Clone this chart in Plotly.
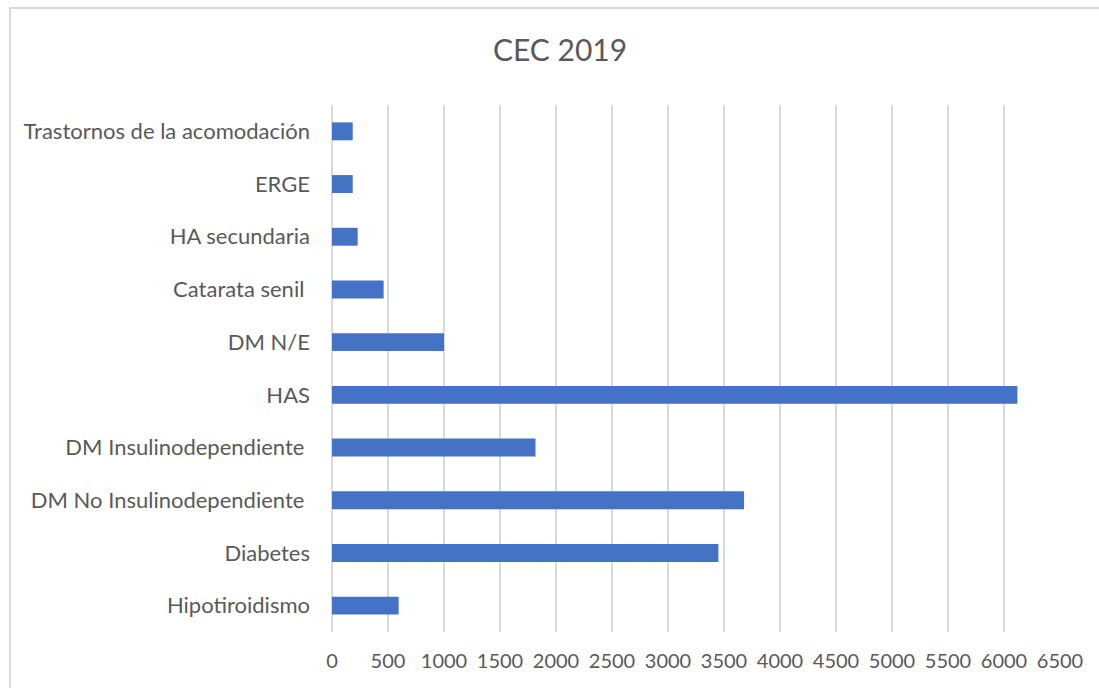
import plotly.graph_objects as go

categories = ["Hipotiroidismo", "Diabetes", "DM No Insulinodependiente ", "DM Insulinodependiente ",
              "HAS", "DM N/E", "Catarata senil ", "HA secundaria", "ERGE", "Trastornos de la acomodación"]
values = [595, 3450, 3679, 1817, 6120, 1000, 461, 229, 185, 185]
x_ticks = list(range(0, 7000, 500))

W, H = 1099, 688
L, R, T, B = 332, 39, 105, 56
pw, ph = W - L - R, H - T - B

fig = go.Figure(go.Bar(
    x=values, y=categories, orientation="h",
    marker=dict(color="#4472C4", line=dict(width=0)),
))

def px_to_paper_x(px):
    return (px - L) / pw

def px_to_paper_y(py):
    return (H - B - py) / ph

fig.update_layout(
    width=W, height=H,
    margin=dict(l=L, r=R, t=T, b=B, autoexpand=False),
    paper_bgcolor="white", plot_bgcolor="white",
    bargap=0.66,
    showlegend=False,
    font=dict(family="Lato", color="#595959"),
    title=dict(text="CEC 2019", x=560 / W, xanchor="center", y=1 - 50 / H, yanchor="middle",
               font=dict(family="Lato", size=30, color="#595959")),
    xaxis=dict(range=[0, 6500], tickvals=x_ticks, ticktext=[str(v) for v in x_ticks],
               showgrid=True, gridcolor="#d9d9d9", gridwidth=2,
               zeroline=True, zerolinecolor="#d9d9d9", zerolinewidth=2,
               showline=False, ticks="", ticklabelstandoff=15,
               tickfont=dict(family="Lato", size=20, color="#595959"), fixedrange=True),
    yaxis=dict(categoryorder="array", categoryarray=categories, range=[-0.5, len(categories) - 0.5],
               showgrid=False, zeroline=False, showline=False, ticks="", ticklabelstandoff=21,
               tickfont=dict(family="Lato", size=22, color="#595959"), fixedrange=True),
    shapes=[dict(type="rect", xref="paper", yref="paper",
                 x0=px_to_paper_x(10), x1=px_to_paper_x(W + 20),
                 y0=px_to_paper_y(H + 20), y1=px_to_paper_y(8),
                 line=dict(color="#d9d9d9", width=2), fillcolor="rgba(0,0,0,0)", layer="below")],
)

fig.write_html("out.html")
